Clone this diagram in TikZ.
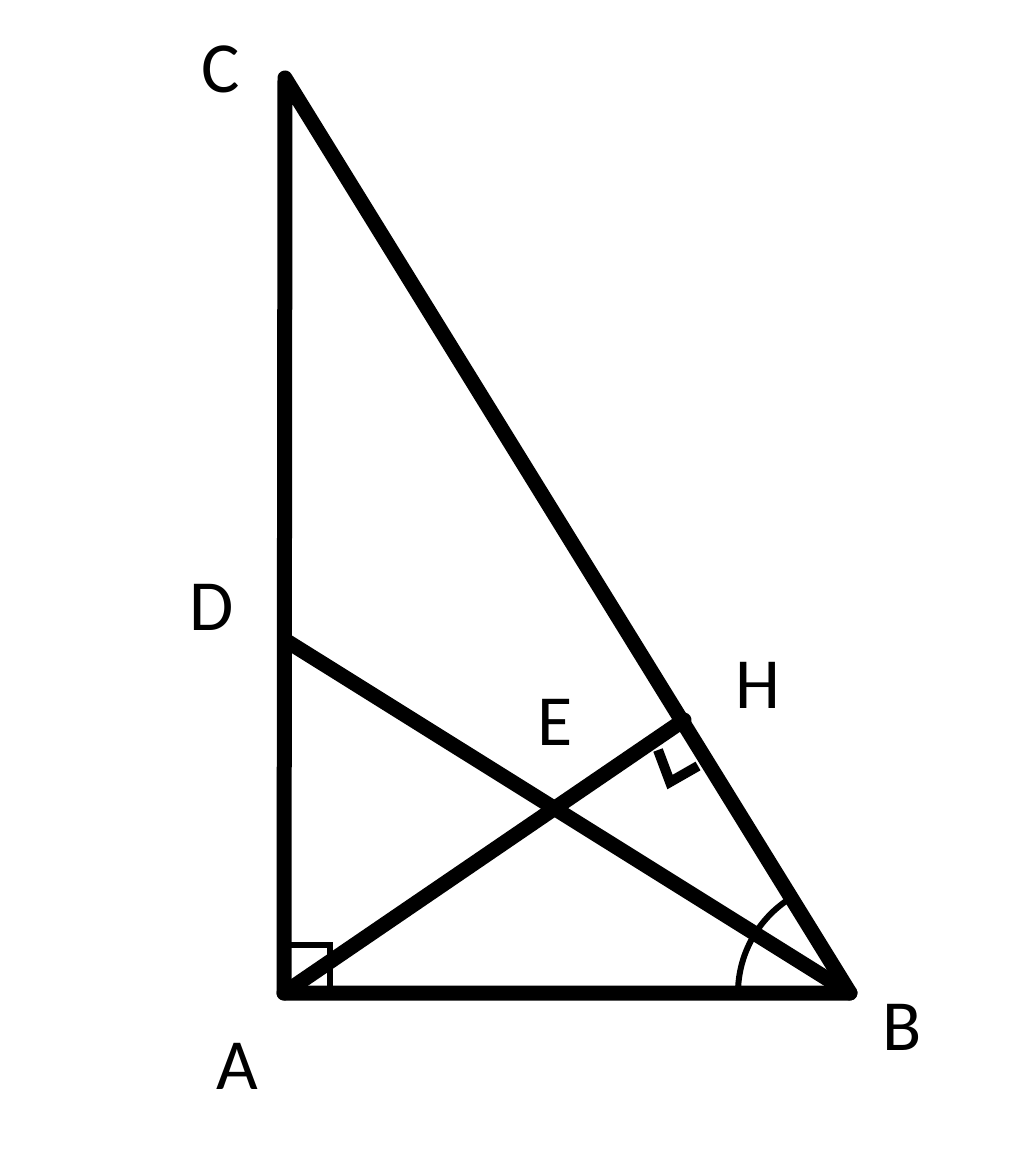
\documentclass[tikz,border=0pt]{standalone}
\usepackage{fontspec}
\setmainfont{Carlito}
\begin{document}
\begin{tikzpicture}[x=1pt,y=-1pt,
  thick line/.style={line width=15pt,line cap=round,line join=round},
  mark line/.style={line width=6pt,line join=miter},
  lbl/.style={font=\fontsize{72}{76}\selectfont,inner sep=0pt}]
\useasboundingbox (0,0) rectangle (1024,1157);
\coordinate (A) at (284,993);
\coordinate (B) at (850,993);
\coordinate (C) at (285,78);
\coordinate (D) at (285,640);
\coordinate (H) at (684,720);
\draw[thick line] (C) -- (A) -- (B) -- cycle;
\draw[thick line] (D) -- (B);
\draw[thick line] (A) -- (H);
% right angle at A
\draw[mark line] (286,945) -- (330,945) -- (330,991);
% right angle at H
\draw[line width=10pt,line join=miter] (658,750) -- (670,782) -- (698,766);
% angle arc at B
\draw[line width=6pt] (B) ++(180:112) arc[start angle=180,end angle=238,radius=112];
\node[lbl] (lC) at (221,69) {C};
\node[lbl] (lD) at (212,607) {D};
\node[lbl] (lH) at (758,685) {H};
\node[lbl] (lE) at (555,722) {E};
\node[lbl] (lA) at (237,1066) {A};
\node[lbl] (lB) at (902,1027) {B};
\end{tikzpicture}
\end{document}
